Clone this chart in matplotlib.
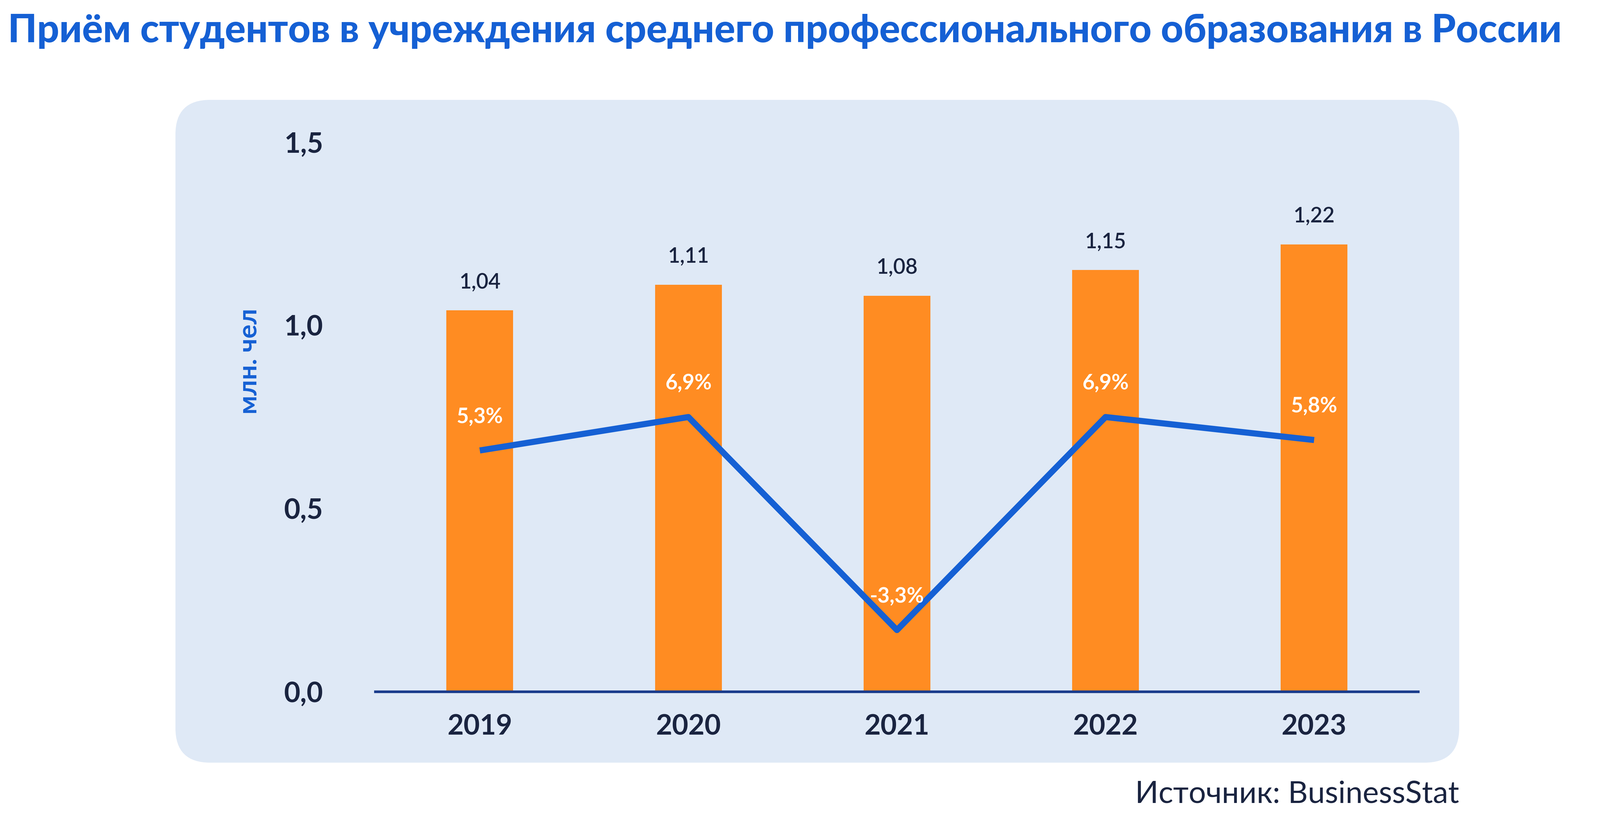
import matplotlib
matplotlib.use("Agg")
import matplotlib.pyplot as plt
from matplotlib.patches import FancyBboxPatch

years = ["2019", "2020", "2021", "2022", "2023"]
students = [1.04, 1.11, 1.08, 1.15, 1.22]
growth = [5.3, 6.9, -3.3, 6.9, 5.8]
yticks = [0.0, 0.5, 1.0, 1.5]

navy = "#1a2440"
blue = "#1560d4"
orange = "#ff8c22"
plt.rcParams["font.family"] = "Lato"

fig = plt.figure(figsize=(50.8, 25.84), dpi=100)
fig.patches.append(FancyBboxPatch((557, 163), 4076, 2104, boxstyle="round,pad=0,rounding_size=110",
                                  transform=None, facecolor="#dfe9f6", edgecolor="none", zorder=-5))

ax = fig.add_axes([0.2347, 0.1503, 0.6518, 0.6755])
ax.set_zorder(2)
ax.patch.set_visible(False)
x = range(len(years))
ax.bar(x, students, width=0.32, color=orange, zorder=2)
for i, v in enumerate(students):
    ax.text(i, v + 0.05, f"{v:.2f}".replace(".", ","), ha="center", va="bottom",
            fontsize=48, fontweight="semibold", color=navy)
ax.set_xlim(-0.5, 4.5)
ax.set_ylim(0, 1.5)
ax.set_xticks(list(x), years)
ax.set_yticks(yticks, [f"{t:.1f}".replace(".", ",") for t in yticks])
for s in ["top", "right", "left"]:
    ax.spines[s].set_visible(False)
ax.spines["bottom"].set_color("#1a3c8c")
ax.spines["bottom"].set_linewidth(6)
ax.tick_params(length=0, labelsize=64, colors=navy, pad=50)
ax.tick_params(axis="y", pad=120)
for lab in ax.get_xticklabels() + ax.get_yticklabels():
    lab.set_fontweight("bold")

ax2 = ax.twinx()
ax2.set_zorder(3)
ax2.set_ylim(-6.25, 20.08)
ax2.axis("off")
ax2.plot(x, growth, color=blue, linewidth=14, zorder=3, solid_capstyle="butt")
for i, g in enumerate(growth):
    ax2.text(i, g + 1.6, f"{g:.1f}%".replace(".", ","), ha="center", va="center",
             fontsize=48, fontweight="bold", color="white")

fig.text(0.156, 0.556, "млн. чел", rotation=90, ha="center", va="center",
         fontsize=60, fontweight="bold", color=blue)
fig.text(0.005, 0.962, "Приём студентов в учреждения среднего профессионального образования в России",
         ha="left", va="center", fontsize=89, fontweight="heavy", color=blue)
fig.text(0.912, 0.024, "Источник: BusinessStat", ha="right", va="center", fontsize=70, color=navy)

fig.savefig("out.png", dpi=100, facecolor="white")
